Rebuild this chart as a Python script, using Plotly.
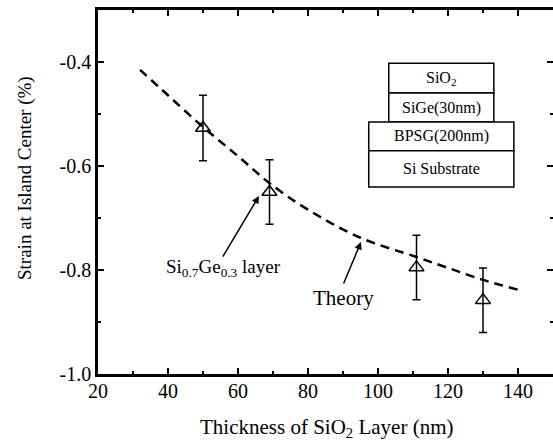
import plotly.graph_objects as go

# Measured data
thickness = [50, 69, 111, 130]
strain = [-0.527, -0.650, -0.795, -0.858]
strain_err = [0.063, 0.062, 0.062, 0.062]

# Theory curve
theory_x = [32, 40, 50, 60, 69, 80, 95, 111, 120, 130, 140]
theory_y = [-0.415, -0.464, -0.525, -0.581, -0.633, -0.684, -0.738, -0.775, -0.796, -0.819, -0.838]

x_ticks = [20, 40, 60, 80, 100, 120, 140]
x_ticktext = ["20", "40", "60", "80", "100", "120", "140"]
y_ticks = [-1.0, -0.8, -0.6, -0.4]
y_ticktext = ["-1.0", "-0.8", "-0.6", "-0.4"]

inset_layers = ["SiO<sub>2</sub>", "SiGe(30nm)", "BPSG(200nm)", "Si Substrate"]

FONT = "Liberation Serif, Times New Roman, serif"

fig = go.Figure()
fig.add_trace(go.Scatter(
    x=theory_x, y=theory_y, mode="lines",
    line=dict(color="black", width=2.5, dash="9px,6px", shape="spline"),
    showlegend=False, hoverinfo="skip"))
fig.add_trace(go.Scatter(
    x=thickness, y=strain, mode="markers",
    marker=dict(symbol="triangle-up-open", size=13, color="black", line=dict(width=1.5)),
    error_y=dict(type="data", array=strain_err, visible=True, color="black", thickness=1.5, width=4),
    showlegend=False))

axis_common = dict(
    showline=True, linecolor="black", linewidth=2.5, mirror="ticks",
    ticks="inside", ticklen=6, tickwidth=2, tickcolor="black",
    showgrid=False, zeroline=False, automargin=False,
    tickfont=dict(family=FONT, size=20, color="black"),
)

fig.update_xaxes(range=[20, 150], tickvals=x_ticks, ticktext=x_ticktext,
                 ticklabelstandoff=-3,
                 minor=dict(dtick=10, ticklen=3, tickwidth=2, ticks="inside", tickcolor="black"),
                 **axis_common)
fig.update_yaxes(range=[-1.0, -0.3], tickvals=y_ticks, ticktext=y_ticktext,
                 minor=dict(dtick=0.1, ticklen=3, tickwidth=2, ticks="inside", tickcolor="black"),
                 **axis_common)

# Inset layer stack (paper coords)
boxes = [
    (0.639, 0.870, 0.772, 0.854),
    (0.639, 0.870, 0.692, 0.772),
    (0.595, 0.914, 0.613, 0.692),
    (0.595, 0.914, 0.514, 0.613),
]
shapes = []
annotations = []
for (x0, x1, y0, y1), label in zip(boxes, inset_layers):
    shapes.append(dict(type="rect", xref="paper", yref="paper", x0=x0, x1=x1, y0=y0, y1=y1,
                       line=dict(color="black", width=1.5), fillcolor="white"))
    annotations.append(dict(xref="paper", yref="paper", x=(x0 + x1) / 2, y=(y0 + y1) / 2,
                            xanchor="center", yanchor="middle",
                            text=label, showarrow=False,
                            font=dict(family=FONT, size=16, color="black")))

W, H = 455.0, 364.0
annotations += [
    dict(xref="paper", yref="paper", x=(223 - 98) / W, y=(374 - 268) / H,
         xanchor="center", yanchor="middle",
         text="Si<sub>0.7</sub>Ge<sub>0.3</sub> layer", showarrow=False,
         font=dict(family=FONT, size=19, color="black")),
    dict(xref="paper", yref="paper", x=(259 - 98) / W, y=(374 - 196) / H,
         ax=(222 - 259), ay=(258 - 196), axref="pixel", ayref="pixel",
         text="", showarrow=True, arrowhead=2, arrowsize=1, arrowwidth=1.5, arrowcolor="black"),
    dict(xref="paper", yref="paper", x=(343 - 98) / W, y=(374 - 298) / H,
         xanchor="center", yanchor="middle",
         text="Theory", showarrow=False,
         font=dict(family=FONT, size=21, color="black")),
    dict(xref="paper", yref="paper", x=(361 - 98) / W, y=(374 - 242) / H,
         ax=(343 - 361), ay=(285 - 242), axref="pixel", ayref="pixel",
         text="", showarrow=True, arrowhead=2, arrowsize=1, arrowwidth=1.5, arrowcolor="black"),
    dict(xref="paper", yref="paper", x=(326 - 98) / W, y=(374 - 428) / H,
         xanchor="center", yanchor="middle",
         text="Thickness of SiO<sub>2</sub> Layer (nm)", showarrow=False,
         font=dict(family=FONT, size=21, color="black")),
    dict(xref="paper", yref="paper", x=(25 - 98) / W, y=(374 - 178) / H,
         xanchor="center", yanchor="middle",
         text="Strain at Island Center (%)", showarrow=False, textangle=-90,
         font=dict(family=FONT, size=19, color="black")),
]

fig.update_layout(
    width=553, height=443,
    margin=dict(l=98, r=0, t=10, b=69),
    plot_bgcolor="white", paper_bgcolor="white",
    shapes=shapes, annotations=annotations,
    font=dict(family=FONT, color="black"),
)

fig.write_html("out.html", config={"displayModeBar": False},
               post_script="document.body.style.margin='0';document.body.style.overflow='hidden';")
